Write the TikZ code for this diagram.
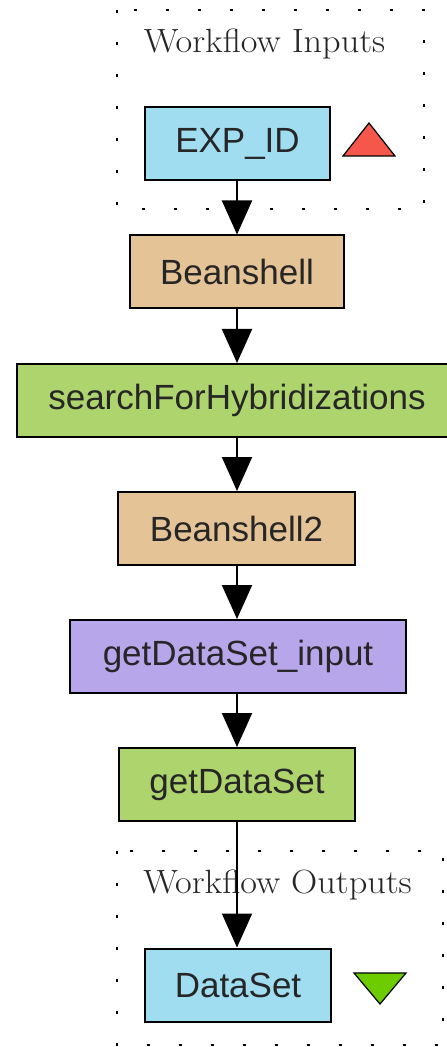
\documentclass[tikz,border=0pt]{standalone}
\usepackage{fontspec}
\newfontfamily\boxfont{Liberation Sans}
\usetikzlibrary{arrows.meta}
\definecolor{portblue}{HTML}{A0DDF0}
\definecolor{beantan}{HTML}{E4C396}
\definecolor{wsgreen}{HTML}{AED46E}
\definecolor{xmlpurple}{HTML}{B8A6EB}
\definecolor{inred}{HTML}{F5574A}
\definecolor{outgreen}{HTML}{6CCC00}
\tikzset{
  proc/.style={draw=black, line width=1pt, minimum height=36.5pt, inner sep=0pt,
    font=\boxfont\fontsize{17.5pt}{20pt}\selectfont, text=black!85},
  groupbox/.style={draw=black, line width=1pt, dash pattern=on 1.5pt off 14.5pt},
  grouptitle/.style={anchor=base, inner sep=0pt, xscale=1.08,
    font=\fontsize{16.8pt}{19pt}\selectfont, text=black!85},
  flow/.style={draw=black, line width=1pt, -{Triangle[width=15pt,length=17pt]}},
  porttri/.style={draw=black, line width=0.6pt}
}
\begin{document}
\begin{tikzpicture}[x=0.5pt, y=-0.5pt]
  \useasboundingbox (0,0) rectangle (446,1047);
  \fill[white] (0,0) rectangle (446,1047);

  % input and output groups
  \draw[groupbox] (117,10) rectangle (424,209);
  \draw[groupbox] (117,851) rectangle (443,1045);
  \node[grouptitle] (intitle) at (264.5,53) {Workflow Inputs};
  \node[grouptitle] (outtitle) at (277.5,893) {Workflow Outputs};

  % processors
  \node[proc, fill=portblue, minimum width=92.5pt] (exp) at (237.5,143.5) {EXP\_ID};
  \node[proc, fill=beantan, minimum width=107pt] (bean1) at (237,272) {Beanshell};
  \node[proc, fill=wsgreen, minimum width=220pt] (search) at (237,400.5) {searchForHybridizations};
  \node[proc, fill=beantan, minimum width=118.5pt] (bean2) at (236.5,528.5) {Beanshell2};
  \node[proc, fill=xmlpurple, minimum width=168pt] (dsin) at (238,656.5) {getDataSet\_input};
  \node[proc, fill=wsgreen, minimum width=118pt] (ds) at (237,784.5) {getDataSet};
  \node[proc, fill=portblue, minimum width=93pt] (out) at (238,985) {DataSet};

  % port markers
  \draw[porttri, fill=inred] (343,156) -- (395,156) -- (369,123) -- cycle;
  \draw[porttri, fill=outgreen] (354,973) -- (406,973) -- (380,1004) -- cycle;

  % data links
  \draw[flow] (exp.south -| bean1) -- (bean1.north);
  \draw[flow] (bean1) -- (search);
  \draw[flow] (search.south -| bean1) -- (bean2.north -| bean1);
  \draw[flow] (bean2.south -| bean1) -- (dsin.north -| bean1);
  \draw[flow] (dsin.south -| bean1) -- (ds.north -| bean1);
  \draw[flow] (ds.south -| bean1) -- (out.north -| bean1);
\end{tikzpicture}
\end{document}
